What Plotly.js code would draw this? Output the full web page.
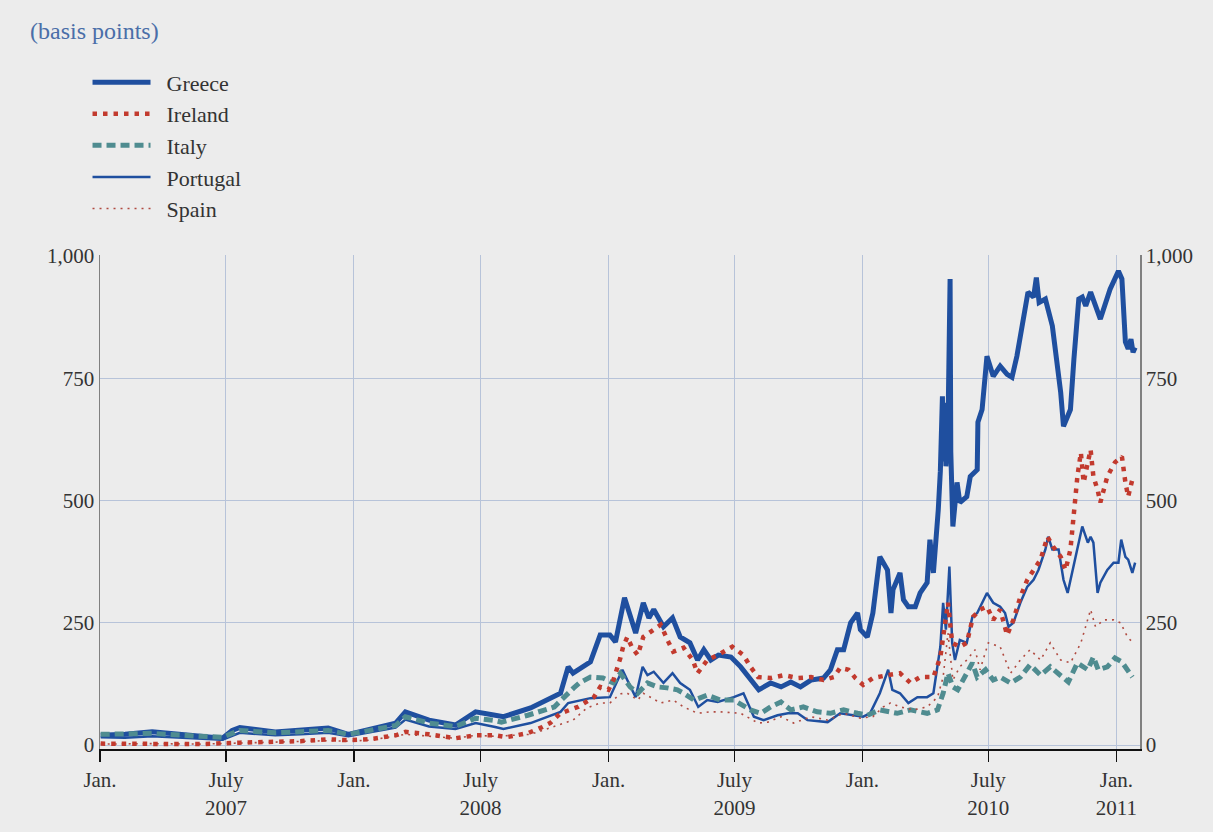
<!DOCTYPE html>
<html>
<head>
<meta charset="utf-8">
<script src="https://cdn.plot.ly/plotly-3.0.1.min.js"></script>
<style>html,body{margin:0;padding:0;background:#ececec;}#chart{width:1213px;height:832px;}</style>
</head>
<body>
<div id="chart"></div>
<script>
// ---- data (basis points) ----
const greeceDates = ["2007-01-02","2007-02-06","2007-03-17","2007-04-26","2007-05-25","2007-06-26","2007-07-10","2007-07-21","2007-09-10","2007-10-16","2007-11-25","2007-12-24",
"2008-01-24","2008-03-01","2008-03-15","2008-04-18","2008-05-26","2008-06-24","2008-07-22","2008-08-03","2008-09-11","2008-10-09","2008-10-24","2008-11-04","2008-11-11","2008-12-06","2008-12-20",
"2009-01-03","2009-01-11","2009-01-24","2009-02-09","2009-02-20","2009-02-28","2009-03-07","2009-03-21","2009-04-03","2009-04-14","2009-04-28","2009-05-09","2009-05-18","2009-05-28","2009-06-08","2009-06-26","2009-07-10","2009-07-24","2009-08-05","2009-08-22","2009-09-06","2009-09-20","2009-10-04","2009-10-19","2009-11-06","2009-11-16","2009-11-26","2009-12-05","2009-12-15","2009-12-25","2009-12-29",
"2010-01-08","2010-01-16","2010-01-26","2010-02-06","2010-02-11","2010-02-14","2010-02-24","2010-03-01","2010-03-08","2010-03-18","2010-03-25","2010-04-04","2010-04-08","2010-04-13","2010-04-20","2010-04-23","2010-04-26","2010-04-27","2010-04-30","2010-05-01","2010-05-04","2010-05-07","2010-05-08","2010-05-11","2010-05-17","2010-05-21","2010-05-31","2010-06-05","2010-06-15","2010-06-16","2010-06-22","2010-06-29","2010-07-08","2010-07-18","2010-07-28","2010-08-04","2010-08-11","2010-08-20","2010-08-27","2010-09-04","2010-09-08","2010-09-12","2010-09-21","2010-10-01","2010-10-08","2010-10-13","2010-10-17","2010-10-23","2010-10-27","2010-11-01","2010-11-08","2010-11-13","2010-11-18","2010-11-25","2010-12-09","2010-12-23",
"2011-01-04","2011-01-09","2011-01-14","2011-01-18","2011-01-22","2011-01-25","2011-01-28"];
const greeceValues = [20,22,27,22,18,14,30,36,27,30,35,22,
32,45,68,51,41,68,61,58,76,96,106,160,147,170,225,
225,211,301,229,291,260,277,242,260,221,209,174,195,174,184,180,160,133,113,127,119,129,119,133,137,154,195,195,250,270,236,
221,270,385,358,270,318,352,297,283,283,311,332,420,352,481,560,713,580,700,570,650,953,600,447,537,496,508,549,563,660,686,795,754,775,758,752,795,864,926,916,956,905,912,857,775,721,652,672,686,789,912,916,898,926,871,932,
969,953,824,810,830,803,813];

const irelandDates = ["2007-01-02","2007-03-17","2007-05-25","2007-07-21","2007-09-10","2007-10-16","2007-11-25","2007-12-24",
"2008-01-24","2008-03-01","2008-03-15","2008-04-18","2008-05-26","2008-06-24","2008-07-22","2008-08-07","2008-08-22","2008-09-08","2008-09-28","2008-10-09","2008-10-24","2008-11-18","2008-12-11","2008-12-20",
"2009-01-01","2009-01-08","2009-01-18","2009-01-22","2009-01-28","2009-02-04","2009-02-12","2009-02-20","2009-03-07","2009-03-17","2009-03-28","2009-04-04","2009-04-19","2009-05-02","2009-05-09","2009-05-23","2009-06-07","2009-06-28","2009-07-14","2009-07-24","2009-08-04","2009-08-22","2009-09-10","2009-09-30","2009-10-19","2009-11-06","2009-11-21","2009-11-30","2009-12-12","2009-12-22",
"2010-01-02","2010-01-16","2010-02-06","2010-02-24","2010-03-11","2010-03-25","2010-04-13","2010-04-23","2010-05-04","2010-05-10","2010-05-21","2010-05-31","2010-06-09","2010-06-19","2010-06-29","2010-07-08","2010-07-18","2010-07-28","2010-08-06","2010-08-16","2010-08-26","2010-09-04","2010-09-14","2010-09-24","2010-10-02","2010-10-13","2010-10-20","2010-10-27","2010-11-01","2010-11-06","2010-11-11","2010-11-15","2010-11-21","2010-11-25","2010-11-29","2010-12-05","2010-12-09","2010-12-19","2010-12-30",
"2011-01-09","2011-01-14","2011-01-18","2011-01-24","2011-01-28"];
const irelandValues = [3,3,2,5,7,8,12,10,
12,20,27,22,14,20,20,16,20,25,37,45,65,78,98,119,
113,133,178,201,221,199,184,221,236,246,211,191,199,174,147,174,184,201,184,160,139,137,143,137,139,133,139,158,154,137,
123,137,143,147,127,139,139,180,291,209,201,209,262,277,283,256,277,225,256,303,338,358,379,426,406,385,358,400,481,549,598,537,578,604,549,522,496,549,578,
590,537,508,543,543];

const italyDates = ["2007-01-02","2007-03-17","2007-05-25","2007-06-26","2007-07-21","2007-09-10","2007-11-25","2007-12-24",
"2008-01-24","2008-03-01","2008-03-15","2008-04-18","2008-05-26","2008-06-24","2008-07-22","2008-07-31","2008-09-07","2008-10-15","2008-11-12","2008-11-20","2008-12-06","2008-12-24",
"2009-01-08","2009-01-18","2009-02-01","2009-02-12","2009-02-26","2009-03-12","2009-03-26","2009-04-10","2009-04-19","2009-05-04","2009-05-23","2009-06-11","2009-06-30","2009-07-24","2009-08-08","2009-08-22","2009-09-06","2009-09-20","2009-10-08","2009-10-28","2009-11-16","2009-12-05","2009-12-25",
"2010-01-08","2010-01-26","2010-02-20","2010-03-11","2010-04-04","2010-04-19","2010-04-27","2010-05-04","2010-05-11","2010-05-18","2010-05-25","2010-06-08","2010-06-15","2010-06-27","2010-07-08","2010-07-18","2010-08-02","2010-08-16","2010-08-30","2010-09-14","2010-09-28","2010-10-10","2010-10-24","2010-11-06","2010-11-21","2010-11-29","2010-12-06","2010-12-19","2010-12-30",
"2011-01-09","2011-01-24"];
const italyValues = [22,24,18,16,30,25,30,22,
30,40,58,45,38,55,50,47,61,78,117,127,139,137,
127,147,119,106,127,119,117,113,106,92,102,92,92,72,65,78,88,72,78,68,65,72,65,
61,72,65,72,65,72,106,147,119,113,133,168,139,154,133,139,127,139,164,143,160,147,129,168,154,180,154,160,178,
170,139];

const portugalDates = ["2007-01-02","2007-02-06","2007-03-17","2007-04-26","2007-05-25","2007-06-26","2007-07-21","2007-09-10","2007-10-16","2007-11-25","2007-12-24",
"2008-01-24","2008-03-01","2008-03-15","2008-04-18","2008-05-26","2008-06-24","2008-07-22","2008-08-03","2008-09-11","2008-10-09","2008-10-24","2008-11-04","2008-12-06",
"2009-01-03","2009-01-21","2009-01-30","2009-02-09","2009-02-19","2009-02-26","2009-03-07","2009-03-21","2009-04-03","2009-04-14","2009-04-28","2009-05-10","2009-05-23","2009-06-07","2009-06-30","2009-07-14","2009-07-29","2009-08-12","2009-09-01","2009-09-16","2009-09-30","2009-10-14","2009-11-12","2009-11-30","2009-12-19",
"2010-01-02","2010-01-12","2010-01-26","2010-02-07","2010-02-13","2010-02-24","2010-03-08","2010-03-21","2010-04-04","2010-04-13","2010-04-23","2010-04-27","2010-05-01","2010-05-06","2010-05-10","2010-05-14","2010-05-21","2010-05-31","2010-06-08","2010-06-15","2010-06-22","2010-06-29","2010-07-08","2010-07-18","2010-07-25","2010-07-30","2010-08-06","2010-08-16","2010-08-26","2010-09-04","2010-09-11","2010-09-21","2010-09-25","2010-10-01","2010-10-10","2010-10-17","2010-10-23","2010-10-30","2010-11-08","2010-11-13","2010-11-21","2010-11-25","2010-11-29","2010-12-05","2010-12-09","2010-12-19","2010-12-28",
"2011-01-04","2011-01-08","2011-01-14","2011-01-18","2011-01-24","2011-01-28"];
const portugalValues = [16,15,18,15,13,11,25,20,22,25,18,
26,36,52,38,33,45,37,33,45,60,68,86,96,
98,154,127,98,160,143,150,127,147,127,113,78,92,88,98,106,58,51,61,65,65,51,47,65,61,
58,65,106,154,113,106,86,98,98,106,201,291,236,365,209,174,215,209,262,270,291,311,291,283,270,242,250,291,324,338,358,400,426,400,400,338,311,358,414,447,414,426,414,311,332,358,373,
373,420,385,379,352,373];

const spainDates = ["2007-01-02","2007-03-17","2007-05-25","2007-07-21","2007-09-10","2007-11-25","2007-12-24",
"2008-01-24","2008-03-15","2008-04-18","2008-05-26","2008-06-24","2008-07-22","2008-09-11","2008-10-09","2008-10-28","2008-11-11","2008-12-01","2008-12-20",
"2009-01-03","2009-01-18","2009-01-28","2009-02-12","2009-02-20","2009-03-17","2009-04-04","2009-04-19","2009-05-09","2009-05-28","2009-06-11","2009-07-10","2009-08-04","2009-08-18","2009-09-06","2009-09-24","2009-10-19","2009-11-12","2009-12-05","2009-12-29",
"2010-01-16","2010-01-31","2010-02-10","2010-02-24","2010-03-15","2010-04-04","2010-04-19","2010-04-27","2010-05-04","2010-05-11","2010-05-21","2010-05-31","2010-06-12","2010-06-19","2010-07-01","2010-07-18","2010-08-02","2010-08-16","2010-08-30","2010-09-14","2010-09-28","2010-10-13","2010-10-27","2010-11-11","2010-11-25","2010-12-02","2010-12-14","2010-12-28",
"2011-01-07","2011-01-17","2011-01-25"];
const spainValues = [2,3,2,4,6,9,8,
10,22,18,14,20,18,22,35,45,51,76,86,
86,105,106,92,106,86,92,78,65,68,68,65,45,47,58,45,58,51,65,55,
58,78,86,78,72,78,98,139,229,133,160,174,195,154,209,201,147,174,195,174,209,174,168,209,277,242,256,256,
250,221,209];

const countryNames = ["Greece","Ireland","Italy","Portugal","Spain"];
const yTicks = [0, 250, 500, 750, 1000];
const xTickDates = ["2007-01-01","2007-07-01","2008-01-01","2008-07-01","2009-01-01","2009-07-01","2010-01-01","2010-07-01","2011-01-01"];
const xTickLabels = ["Jan.","July<br>2007","Jan.","July<br>2008","Jan.","July<br>2009","Jan.","July<br>2010","Jan.<br>2011"];

const blue = "#1f4f9f";
const red = "#c23a2e";
const teal = "#4f8c90";
const pad = "\u00a0\u00a0";

const traces = [
  {name:pad+countryNames[0], x:greeceDates, y:greeceValues, mode:"lines", line:{color:blue, width:5}, legendrank:1},
  {name:pad+countryNames[3], x:portugalDates, y:portugalValues, mode:"lines", line:{color:blue, width:2.5}, legendrank:4},
  {name:pad+countryNames[2], x:italyDates, y:italyValues, mode:"lines", line:{color:teal, width:5, dash:"9px,5px"}, legendrank:3},
  {name:pad+countryNames[4], x:spainDates, y:spainValues, mode:"lines", line:{color:"#b04a40", width:1.6, dash:"2px,5px"}, legendrank:5},
  {name:pad+countryNames[1], x:irelandDates, y:irelandValues, mode:"lines", line:{color:red, width:4.5, dash:"4.5px,6px"}, legendrank:2},
  {x:[], y:[], yaxis:"y2", showlegend:false, hoverinfo:"skip"}
];

const fontFam = "Liberation Serif, Times New Roman, serif";

const layout = {
  width:1213, height:832,
  paper_bgcolor:"#ececec", plot_bgcolor:"#ececec",
  margin:{l:100, r:73, t:255, b:83},
  font:{family:fontFam, size:20, color:"#333"},
  showlegend:true,
  legend:{x:-0.012, xanchor:"left", y:1.392, yanchor:"top", bgcolor:"rgba(0,0,0,0)", font:{family:fontFam, size:22, color:"#333"}, itemwidth:58, tracegroupgap:0},
  xaxis:{type:"date", range:["2007-01-01","2011-02-04"], tickmode:"array", tickvals:xTickDates, ticktext:xTickLabels,
    showgrid:true, gridcolor:"#b7c3d9", gridwidth:1, zeroline:false,
    showline:true, linecolor:"#111", linewidth:2, ticks:"outside", ticklen:11, tickwidth:1.5, tickcolor:"#111",
    tickfont:{family:fontFam, size:21, color:"#333"}},
  yaxis:{range:[-8,1002], tickmode:"array", tickvals:yTicks, tickformat:",", showgrid:true, gridcolor:"#b7c3d9", gridwidth:1,
    zeroline:false, showline:true, linecolor:"#808080", linewidth:1.5, ticks:"", tickfont:{family:fontFam, size:21, color:"#333"}},
  yaxis2:{range:[-8,1002], overlaying:"y", side:"right", tickmode:"array", tickvals:yTicks, tickformat:",", showgrid:false,
    zeroline:false, showline:true, linecolor:"#808080", linewidth:1.5, ticks:"", tickfont:{family:fontFam, size:21, color:"#333"}},
  annotations:[{text:"(basis points)", xref:"paper", yref:"paper", x:-0.069, y:1.453, xanchor:"left", yanchor:"middle", showarrow:false,
    font:{family:fontFam, size:24, color:"#4a6ea8"}}]
};

Plotly.newPlot("chart", traces, layout, {displayModeBar:false, staticPlot:true});
</script>
</body>
</html>
